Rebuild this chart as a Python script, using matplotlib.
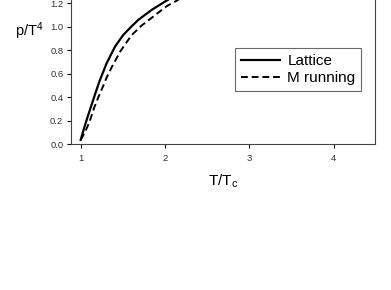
import numpy as np
import matplotlib
matplotlib.use('Agg')
import matplotlib.pyplot as plt

plt.rcParams['font.family'] = ['Liberation Sans', 'DejaVu Sans']
plt.rcParams['mathtext.default'] = 'regular'

# values (curves leave the top of the picture)
t_lattice = [1.0, 1.04, 1.083, 1.161, 1.22, 1.308, 1.407, 1.505, 1.60, 1.683, 1.842, 2.0, 2.06]
p_lattice = [0.035, 0.135, 0.233, 0.404, 0.53, 0.689, 0.83, 0.93, 1.0, 1.058, 1.143, 1.214, 1.24]

t_mrun = [1.0, 1.05, 1.10, 1.16, 1.21, 1.27, 1.31, 1.368, 1.47, 1.60, 1.723, 1.85, 2.02, 2.16]
p_mrun = [0.035, 0.10, 0.18, 0.31, 0.40, 0.50, 0.57, 0.655, 0.79, 0.925, 1.01, 1.08, 1.175, 1.23]

x_ticks = [1, 2, 3, 4]
y_ticks = [0.0, 0.2, 0.4, 0.6, 0.8, 1.0, 1.2]

fig = plt.figure(figsize=(3.91, 2.90), dpi=100)
# axes reach past the top edge, as in the cropped original
ax = fig.add_axes([71 / 391, 146 / 290, 304 / 391, 176 / 290])

ax.plot(t_lattice, p_lattice, color='black', lw=1.6, label='Lattice',
        solid_joinstyle='round')
ax.plot(t_mrun, p_mrun, color='black', lw=1.4, ls=(0, (3.5, 2)), label='M running')

ax.set_xlim(0.885, 4.49)
ax.set_ylim(0, 1.5)
ax.set_xticks(x_ticks)
ax.set_xticklabels([str(v) for v in x_ticks])
ax.set_yticks(y_ticks)
ax.set_yticklabels(['%.1f' % v for v in y_ticks])
ax.tick_params(axis='both', direction='out', length=3, width=0.8, labelsize=6.8,
               labelcolor='#333333')
ax.tick_params(axis='x', pad=4)
ax.tick_params(axis='y', pad=2.5)
for s in ax.spines.values():
    s.set_linewidth(0.8)
    s.set_color('#444444')

ax.set_xlabel('T/T$_c$', fontsize=11, labelpad=7)
ax.set_ylabel('p/T$^4$', fontsize=10.5, rotation=0, va='center', ha='center')
ax.yaxis.set_label_coords(-0.138, 0.64)

leg = ax.legend(loc='upper left', bbox_to_anchor=((235 - 71) / 304, 0.545),
                fontsize=11, frameon=True, fancybox=False, handlelength=2.55,
                borderpad=0.38, labelspacing=0.2, handletextpad=0.5,
                borderaxespad=0)
leg.get_frame().set_edgecolor('#444444')
leg.get_frame().set_linewidth(0.8)

fig.savefig('out.png', dpi=100)
